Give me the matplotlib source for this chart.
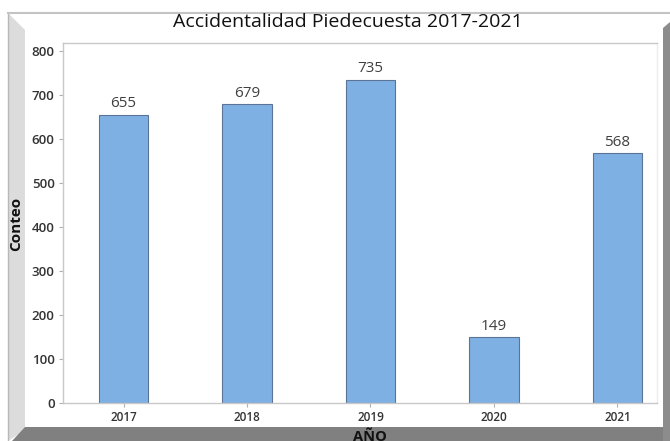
import matplotlib.pyplot as plt
from matplotlib.patches import Polygon
from matplotlib.lines import Line2D

anios = ['2017', '2018', '2019', '2020', '2021']
conteo = [655, 679, 735, 149, 568]

plt.rcParams['font.family'] = ['Open Sans', 'DejaVu Sans']

W, H = 670, 441
fig = plt.figure(figsize=(W / 100, H / 100), dpi=100)


def px(x, y):
    # pixel coords (from top-left) to figure fraction
    return (x / W, 1 - y / H)


# marco tipo 3D de Minitab
fig.add_artist(Polygon([px(8, 13), px(25, 30), px(25, 430), px(8, 441)],
                       closed=True, facecolor='#dcdcdc', edgecolor='none',
                       transform=fig.transFigure))
fig.add_artist(Line2D([8 / W, 8 / W], [1 - 13 / H, 0], color='#b8b8b8', lw=1,
                      transform=fig.transFigure))
fig.add_artist(Line2D([8 / W, 1], [1 - 13 / H, 1 - 13 / H], color='#c4c4c4', lw=1.5,
                      transform=fig.transFigure))
fig.add_artist(Polygon([px(25, 427), px(670, 427), px(670, 441), px(12, 441)],
                       closed=True, facecolor='#808080', edgecolor='none',
                       transform=fig.transFigure))
fig.add_artist(Polygon([px(663, 28), px(670, 22), px(670, 441), px(663, 441)],
                       closed=True, facecolor='#8c8c8c', edgecolor='none',
                       transform=fig.transFigure))

ax = fig.add_axes([63 / W, 1 - 403 / H, (657 - 63) / W, (403 - 43) / H])
x = range(len(anios))
ax.bar(x, conteo, width=0.4, color='#7fb0e3', edgecolor='#5b7397', linewidth=0.8)
for xi, v in zip(x, conteo):
    ax.text(xi, v + 8, str(v), ha='center', va='bottom', fontsize=11, color='#404040')

ax.set_xlim(-0.49, 4.32)
ax.set_ylim(0, 818)
ax.set_yticks(range(0, 801, 100))
ax.set_xticks(list(x))
ax.set_xticklabels(anios)
ax.tick_params(axis='both', length=3, color='#b0b0b0', labelsize=8.5,
               labelcolor='#333333', pad=3)
ax.tick_params(axis='y', labelsize=9.5)
for lab in ax.get_xticklabels() + ax.get_yticklabels():
    lab.set_fontweight('semibold')

for s in ['left', 'bottom', 'top', 'right']:
    ax.spines[s].set_color('#c8c8c8')
    ax.spines[s].set_linewidth(1)
ax.spines['right'].set_color('#ececec')

fig.text(348 / W, 1 - 22 / H, 'Accidentalidad Piedecuesta 2017-2021',
         ha='center', va='center', fontsize=14, color='#111111')
fig.text(16 / W, 1 - 224 / H, 'Conteo', rotation=90, ha='center', va='center',
         fontsize=11, fontweight='bold', color='#111111')
fig.text(370 / W, 1 - 430 / H, 'AÑO', ha='center', va='top',
         fontsize=10.5, fontweight='bold', color='#111111')

fig.savefig('out.png', dpi=100)
